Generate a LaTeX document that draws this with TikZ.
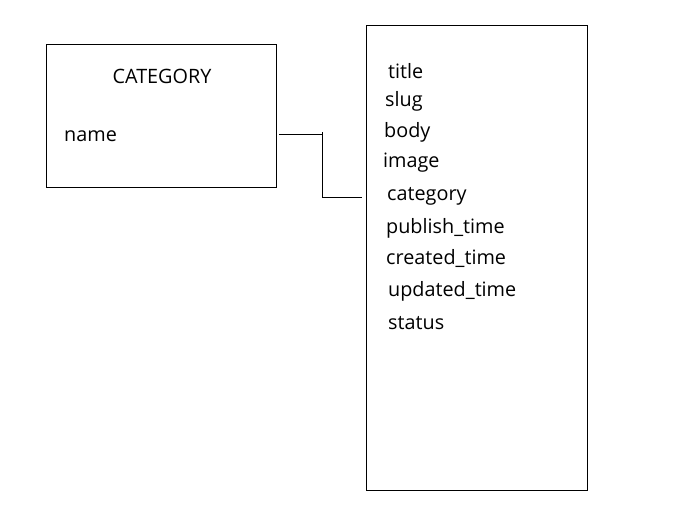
\documentclass[tikz,border=0pt]{standalone}
\usepackage{fontspec}
\setmainfont{Open Sans}
\begin{document}
\begin{tikzpicture}[x=1pt,y=-1pt,
  box/.style={draw,line width=1pt},
  lbl/.style={anchor=west,inner sep=0pt,font=\fontsize{19.8}{22}\selectfont},
  conn/.style={draw,line width=1pt}]
\useasboundingbox (0,0) rectangle (696,525);
\draw[box] (46,44) rectangle (276,187);
\draw[box] (366,25) rectangle (587,490);
\node[lbl,anchor=center] (cat) at (162,76) {CATEGORY};
\node[lbl] (name) at (64,136) {name};
\node[lbl] (f1) at (388,71) {title};
\node[lbl] (f2) at (385,101) {slug};
\node[lbl] (f3) at (384,132) {body};
\node[lbl] (f4) at (383,163) {image};
\node[lbl] (f5) at (387,196) {category};
\node[lbl] (f6) at (386,228) {publish\_time};
\node[lbl] (f7) at (386,258) {created\_time};
\node[lbl] (f8) at (388,291) {updated\_time};
\node[lbl] (f9) at (388,323) {status};
\coordinate (c1) at (279,134);
\coordinate (c2) at (322,134);
\coordinate (c3) at (322,197);
\coordinate (c4) at (362,197);
\draw[conn] (c1) -- (c2);
\draw[conn] (322,132) -- (c3) -- (c4);
\end{tikzpicture}
\end{document}
